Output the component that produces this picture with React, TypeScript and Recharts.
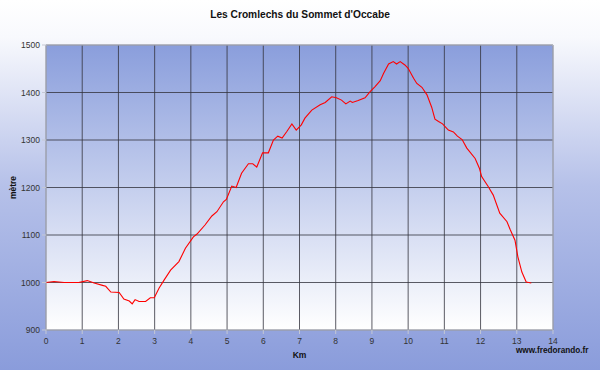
import { LineChart, Line, XAxis, YAxis, CartesianGrid, ReferenceLine } from "recharts";

// distance (km) and altitude (m)
const kmValues: number[] = [
  0, 0.22, 0.5, 0.9, 1.14, 1.33, 1.56, 1.65, 1.79, 2.02,
  2.15, 2.3, 2.38, 2.46, 2.57, 2.75, 2.88, 2.99, 3.12, 3.26,
  3.44, 3.67, 3.85, 4.07, 4.17, 4.39, 4.58, 4.72, 4.9, 4.98,
  5.13, 5.25, 5.4, 5.59, 5.71, 5.82, 5.98, 6.14, 6.28, 6.4,
  6.52, 6.65, 6.79, 6.91, 7.05, 7.15, 7.34, 7.57, 7.71, 7.89,
  8.02, 8.16, 8.28, 8.4, 8.46, 8.62, 8.81, 8.95, 9.08, 9.23,
  9.32, 9.46, 9.59, 9.68, 9.78, 9.91, 10.0, 10.15, 10.24, 10.38,
  10.52, 10.65, 10.74, 10.84, 10.95, 11.11, 11.25, 11.36, 11.49, 11.62,
  11.85, 11.97, 12.03, 12.21, 12.35, 12.53, 12.73, 12.82, 12.95, 13.03,
  13.14, 13.26, 13.4,
];

const altValues: number[] = [
  1000, 1002, 1000, 1000, 1004, 999, 994, 992, 980, 979,
  965, 961, 955, 964, 960, 960, 968, 968, 988, 1005,
  1026, 1044, 1072, 1096, 1102, 1121, 1140, 1149, 1170, 1175,
  1203, 1200, 1230, 1250, 1250, 1243, 1273, 1273, 1300, 1308,
  1304, 1318, 1334, 1321, 1332, 1346, 1363, 1374, 1379, 1391,
  1389, 1384, 1376, 1382, 1379, 1383, 1389, 1402, 1412, 1425,
  1440, 1460, 1465, 1460, 1465, 1458, 1451, 1430, 1419, 1411,
  1395, 1369, 1344, 1339, 1334, 1321, 1317, 1308, 1301, 1283,
  1261, 1240, 1223, 1202, 1184, 1146, 1128, 1111, 1089, 1054,
  1022, 1001, 999,
];

const xTicks: number[] = [0, 1, 2, 3, 4, 5, 6, 7, 8, 9, 10, 11, 12, 13, 14];
const yTicks: number[] = [900, 1000, 1100, 1200, 1300, 1400, 1500];

const profile = kmValues.map((km, i) => ({ km, alt: altValues[i] }));

const tickStyle = { fontSize: 8.5, fill: "#333", fontFamily: "Liberation Sans, Arial, sans-serif" };

const App = () => (
  <div
    style={{
      position: "absolute",
      left: 0,
      top: 0,
      width: 600,
      height: 370,
      background: "linear-gradient(180deg, #ffffff 0%, #f8f9fd 10%, #b6c1e9 50%, #8a9cdb 100%)",
      fontFamily: "Liberation Sans, Arial, sans-serif",
    }}
  >
    <div
      style={{
        position: "absolute",
        top: 9,
        width: 600,
        textAlign: "center",
        fontSize: 10.2,
        fontWeight: "bold",
        color: "#111",
      }}
    >
      Les Cromlechs du Sommet d'Occabe
    </div>
    <LineChart
      width={600}
      height={370}
      data={profile}
      margin={{ top: 45, right: 47, bottom: 10, left: 6 }}
      style={{ position: "absolute", left: 0, top: 0 }}
    >
      <defs>
        <linearGradient id="plotBg" x1="0" y1="0" x2="0" y2="1">
          <stop offset="0%" stopColor="#8a9edc" />
          <stop offset="100%" stopColor="#ffffff" />
        </linearGradient>
      </defs>
      <CartesianGrid fill="url(#plotBg)" stroke="#33333d" strokeOpacity={0.8} />
      <XAxis
        dataKey="km"
        type="number"
        domain={[0, 14]}
        ticks={xTicks}
        interval={0}
        height={30}
        tickSize={4}
        tickMargin={4}
        stroke="#c4c8d4"
        tick={tickStyle}
        label={{ value: "Km", position: "insideBottom", offset: 2, style: { fontSize: 8.5, fontWeight: "bold", fill: "#111" } }}
      />
      <YAxis
        type="number"
        domain={[900, 1500]}
        ticks={yTicks}
        interval={0}
        width={40}
        tickSize={4}
        tickMargin={2}
        stroke="#c4c8d4"
        tick={tickStyle}
        label={{
          value: "mètre",
          angle: -90,
          position: "insideLeft",
          offset: 7,
          style: { fontSize: 8.5, fontWeight: "bold", fill: "#111", textAnchor: "middle" },
        }}
      />
      <ReferenceLine y={1500} stroke="#c4c8d4" />
      <ReferenceLine x={14} stroke="#c4c8d4" />
      <Line
        type="linear"
        dataKey="alt"
        stroke="#ff0000"
        strokeWidth={1.1}
        dot={false}
        isAnimationActive={false}
      />
    </LineChart>
    <div
      style={{
        position: "absolute",
        left: 516,
        top: 346,
        fontSize: 8.2,
        fontWeight: "bold",
        color: "#111",
      }}
    >
      www.fredorando.fr
    </div>
  </div>
);

export default App;
